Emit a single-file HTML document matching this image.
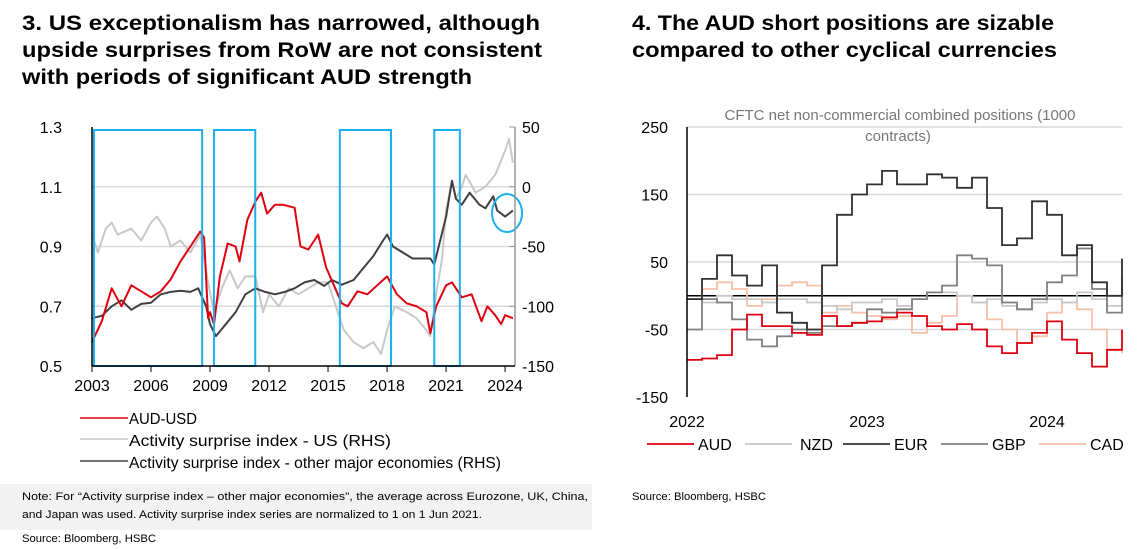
<!DOCTYPE html>
<html><head><meta charset="utf-8"><style>
body{margin:0;background:#fff;width:1146px;height:549px;overflow:hidden;font-family:"Liberation Sans",Arial,sans-serif}
svg{display:block}
</style></head><body>
<svg width="1146" height="549" viewBox="0 0 1146 549" font-family="Liberation Sans, Arial, sans-serif">
<g font-weight="bold" font-size="21" fill="#000">
<text x="22" y="30" textLength="518" lengthAdjust="spacingAndGlyphs">3. US exceptionalism has narrowed, although</text>
<text x="22" y="57" textLength="520" lengthAdjust="spacingAndGlyphs">upside surprises from RoW are not consistent</text>
<text x="22" y="84" textLength="450" lengthAdjust="spacingAndGlyphs">with periods of significant AUD strength</text>
</g>
<g font-weight="bold" font-size="21" fill="#000">
<text x="632" y="30" textLength="422" lengthAdjust="spacingAndGlyphs">4. The AUD short positions are sizable</text>
<text x="632" y="57" textLength="425" lengthAdjust="spacingAndGlyphs">compared to other cyclical currencies</text>
</g>
<g id="left"></g>
<g id="right"></g>
<g font-size="16" fill="#000">
<line x1="80" y1="418" x2="128" y2="418" stroke="#e00010" stroke-width="1.5"/>
<text x="129" y="424" textLength="68" lengthAdjust="spacingAndGlyphs">AUD-USD</text>
<line x1="80" y1="439" x2="128" y2="439" stroke="#c8c8c8" stroke-width="1.5"/>
<text x="129" y="446" textLength="262" lengthAdjust="spacingAndGlyphs">Activity surprise index - US (RHS)</text>
<line x1="80" y1="461" x2="128" y2="461" stroke="#404040" stroke-width="1.5"/>
<text x="129" y="468" textLength="372" lengthAdjust="spacingAndGlyphs">Activity surprise index - other major economies (RHS)</text>
</g>
<rect x="0" y="484" width="592" height="46" fill="#f2f2f2"/>
<g font-size="11" fill="#000">
<text x="22" y="500" textLength="566" lengthAdjust="spacingAndGlyphs">Note: For “Activity surprise index – other major economies”, the average across Eurozone, UK, China,</text>
<text x="22" y="518" textLength="460" lengthAdjust="spacingAndGlyphs">and Japan was used. Activity surprise index series are normalized to 1 on 1 Jun 2021.</text>
<text x="22" y="542" textLength="134" lengthAdjust="spacingAndGlyphs">Source: Bloomberg, HSBC</text>
</g>
<text x="632" y="500" font-size="11" textLength="134" lengthAdjust="spacingAndGlyphs">Source: Bloomberg, HSBC</text>
</svg>
<script>
// ---------- Left chart data ----------
const audT=[2003.0,2003.5,2004.0,2004.5,2005.0,2005.5,2006.0,2006.5,2007.0,2007.5,2008.0,2008.5,2008.7,2008.9,2009.0,2009.2,2009.5,2009.9,2010.3,2010.5,2010.9,2011.3,2011.6,2011.9,2012.3,2012.7,2013.3,2013.6,2014.0,2014.5,2014.9,2015.3,2015.7,2016.0,2016.5,2017.0,2017.5,2018.0,2018.5,2019.0,2019.5,2020.0,2020.2,2020.5,2021.0,2021.3,2021.8,2022.3,2022.8,2023.1,2023.5,2023.8,2024.0,2024.4];
const audV=[0.58,0.65,0.76,0.70,0.77,0.75,0.73,0.75,0.79,0.85,0.90,0.95,0.93,0.66,0.68,0.64,0.80,0.91,0.90,0.85,0.99,1.05,1.08,1.01,1.04,1.04,1.03,0.90,0.89,0.94,0.83,0.77,0.71,0.70,0.75,0.74,0.77,0.80,0.74,0.71,0.70,0.68,0.61,0.70,0.77,0.78,0.73,0.74,0.65,0.70,0.67,0.64,0.67,0.66];
const usT=[2003.0,2003.3,2003.7,2004.0,2004.3,2005.0,2005.5,2006.0,2006.3,2006.7,2007.0,2007.5,2008.0,2008.5,2008.9,2009.2,2009.6,2010.0,2010.4,2010.8,2011.3,2011.7,2012.0,2012.5,2013.0,2013.5,2014.0,2014.5,2015.0,2015.3,2015.8,2016.3,2016.8,2017.3,2017.7,2018.0,2018.4,2019.0,2019.5,2020.0,2020.2,2020.5,2020.8,2021.0,2021.3,2021.5,2021.8,2022.0,2022.5,2023.0,2023.5,2024.0,2024.2,2024.4];
const usV=[-40,-55,-35,-30,-40,-35,-45,-30,-25,-35,-50,-45,-55,-40,-80,-105,-85,-70,-85,-75,-75,-105,-90,-100,-85,-90,-85,-80,-80,-95,-120,-130,-135,-130,-140,-120,-100,-105,-110,-120,-125,-90,-60,-20,5,-10,0,10,-5,0,10,30,40,20];
const othT=[2003.0,2003.5,2004.0,2004.5,2005.0,2005.5,2006.0,2006.5,2007.0,2007.5,2008.0,2008.4,2008.8,2009.0,2009.3,2009.8,2010.3,2010.8,2011.3,2011.8,2012.3,2012.8,2013.3,2013.8,2014.3,2014.8,2015.2,2015.7,2016.3,2016.8,2017.3,2017.8,2018.0,2018.3,2018.8,2019.3,2019.8,2020.2,2020.4,2020.7,2021.0,2021.3,2021.5,2021.8,2022.2,2022.7,2023.0,2023.4,2023.6,2024.0,2024.4];
const othV=[-110,-108,-100,-95,-103,-98,-97,-90,-88,-87,-88,-85,-100,-115,-125,-115,-105,-90,-85,-88,-90,-88,-85,-80,-78,-83,-78,-82,-78,-68,-58,-45,-40,-50,-55,-60,-60,-60,-65,-45,-25,5,-10,-15,-5,-15,-18,-8,-20,-25,-20];
const leftTicks=[1.3,1.1,0.9,0.7,0.5];
const rightTicks=[50,0,-50,-100,-150];
const yearTicks=[2003,2006,2009,2012,2015,2018,2021,2024];
const boxes=[[2003.1,2008.6],[2009.2,2011.3],[2015.6,2018.2],[2020.4,2021.7]];
const circ=[2024.1,-22];

// ---------- Right chart data ----------
const months=[...Array(30).keys()];
const cur=['AUD','NZD','EUR','GBP','CAD'];
const AUD=[-95,-93,-88,-50,-28,-45,-45,-55,-58,-30,-45,-40,-38,-32,-25,-30,-45,-50,-42,-50,-75,-85,-70,-55,-38,-65,-85,-105,-80,-50];
const NZD=[-5,-10,0,-5,-5,-10,-5,-5,-10,-15,-20,-10,-10,-5,-15,-5,5,5,0,-10,-5,-15,-20,-10,-5,-10,5,-5,-15,-15];
const EUR=[-5,25,60,30,15,45,-25,-40,-50,45,120,150,165,185,165,165,180,175,160,175,130,75,85,140,120,60,75,20,0,55];
const GBP=[-50,-5,-10,-35,-65,-75,-60,-50,-55,-45,-45,-40,-20,-25,-20,-5,5,15,60,55,45,-10,-20,-5,20,30,70,10,-25,30];
const CAD=[-5,10,20,10,-15,-5,15,20,15,-25,-15,-25,-30,-35,-30,-55,-40,-30,0,-10,-35,-50,-70,-60,-25,-10,-20,-50,-80,-85];
const rTicks=[250,150,50,-50,-150];
const rYears=[2022,2023,2024];

const NS='http://www.w3.org/2000/svg';
function mk(p,tag,a){const e=document.createElementNS(NS,tag);for(const k in a)e.setAttribute(k,a[k]);p.appendChild(e);return e;}

const L=document.getElementById('left');
const lx=t=>92+(t-2003)*19.67;
const ly=v=>127+(1.3-v)/0.8*239;
const ry=v=>127+(50-v)/200*239;
leftTicks.forEach(v=>{
 if(v<1.3&&v>0.5){const g=mk(L,'line',{x1:92,x2:515,y1:ly(v),y2:ly(v),stroke:'#d9d9d9','stroke-width':1.5});
 }
 const t=mk(L,'text',{x:62,y:ly(v)+6,'text-anchor':'end','font-size':16});t.textContent=v.toFixed(1);
 
});
rightTicks.forEach(v=>{
 mk(L,'line',{x1:509,x2:515,y1:ry(v),y2:ry(v),stroke:'#999'});
 const t=mk(L,'text',{x:522,y:ry(v)+6,'text-anchor':'start','font-size':16});t.textContent=v;
 
});
function poly(p,T,V,xf,yf,col,w,name){
 const e=mk(p,'polyline',{points:T.map((t,i)=>xf(t).toFixed(1)+','+yf(V[i]).toFixed(1)).join(' '),fill:'none',stroke:col,'stroke-width':w,'stroke-linejoin':'round'});
 return e;}
poly(L,usT,usV,lx,ry,'#c8c8c8',2,'us-surprise-line');
poly(L,othT,othV,lx,ry,'#404040',2,'other-surprise-line');
poly(L,audT,audV,lx,ly,'#e00010',2,'aud-usd-line');
boxes.forEach(b=>{const r=mk(L,'rect',{x:lx(b[0]),y:130,width:lx(b[1])-lx(b[0]),height:366-130,fill:'none',stroke:'#1ab0ee','stroke-width':2});
 });
const c=mk(L,'ellipse',{cx:lx(circ[0]),cy:ry(circ[1]),rx:15,ry:19,fill:'none',stroke:'#1ab0ee','stroke-width':2});

const la=mk(L,'line',{x1:92,x2:92,y1:127,y2:366,stroke:'#000','stroke-width':1.5});

const ra=mk(L,'line',{x1:515,x2:515,y1:127,y2:366,stroke:'#999','stroke-width':1.5});

const ba=mk(L,'line',{x1:92,x2:515,y1:366,y2:366,stroke:'#000','stroke-width':1.5});

yearTicks.forEach(y=>{mk(L,'line',{x1:lx(y),x2:lx(y),y1:366,y2:372,stroke:'#000'});
 const t=mk(L,'text',{x:lx(y),y:391,'text-anchor':'middle','font-size':16});t.textContent=y;
 });

const R=document.getElementById('right');
const mx=m=>687+m*15;
const my=v=>127+(250-v)/400*270;
rTicks.forEach(v=>{
 if(v>-150){const g=mk(R,'line',{x1:687,x2:1122,y1:my(v),y2:my(v),stroke:'#d9d9d9','stroke-width':1.5});
 }
 const t=mk(R,'text',{x:668,y:my(v)+6,'text-anchor':'end','font-size':16});t.textContent=v;
 });
const tt=mk(R,'text',{x:900,y:120,'text-anchor':'middle','font-size':15,fill:'#777'});tt.textContent='CFTC net non-commercial combined positions (1000';

const tt2=mk(R,'text',{x:898,y:141,'text-anchor':'middle','font-size':15,fill:'#777'});tt2.textContent='contracts)';

const z=mk(R,'line',{x1:687,x2:1122,y1:my(0),y2:my(0),stroke:'#000','stroke-width':1.5});

function step(V,col,name){
 let d='M'+mx(0)+','+my(V[0]).toFixed(1);
 for(let i=1;i<V.length;i++){d+=' H'+mx(i)+' V'+my(V[i]).toFixed(1);}
 const e=mk(R,'path',{d:d,fill:'none',stroke:col,'stroke-width':1.8});
 }
const cols={AUD:'#e00010',NZD:'#c8c8c8',EUR:'#303030',GBP:'#808080',CAD:'#f8c0a8'};
const dat={AUD,NZD,EUR,GBP,CAD};
['CAD','NZD','GBP','EUR','AUD'].forEach(k=>step(dat[k],cols[k],k.toLowerCase()+'-line'));
const ya=mk(R,'line',{x1:687,x2:687,y1:127,y2:397,stroke:'#000','stroke-width':1.5});

rYears.forEach((y,i)=>{const t=mk(R,'text',{x:687+i*180,y:427,'text-anchor':'middle','font-size':16});t.textContent=y;
 });
cur.forEach((k,i)=>{const x0=647+i*98;
 const l=mk(R,'line',{x1:x0,x2:x0+47,y1:444,y2:444,stroke:cols[k],'stroke-width':1.8});
 
 const t=mk(R,'text',{x:x0+(i===1?55:51),y:450,'font-size':16});t.textContent=k;
 });
</script>
</body></html>
